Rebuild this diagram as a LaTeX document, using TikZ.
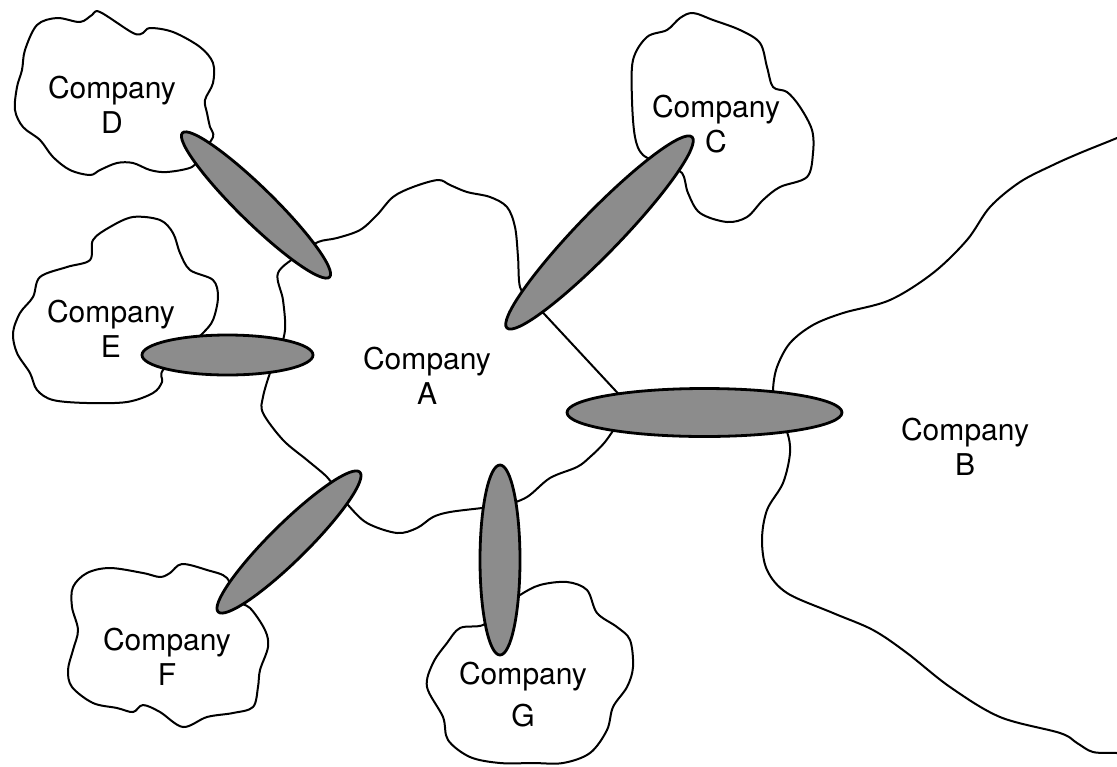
\documentclass[tikz,border=0pt]{standalone}
\usepackage{fontspec}
\setmainfont{TeX Gyre Heros}
\usetikzlibrary{shapes.geometric}
\begin{document}
\begin{tikzpicture}[x=0.5pt,y=-0.5pt,
  outline/.style={line width=1pt, line join=round},
  link/.style={ellipse, draw, line width=1.4pt, fill=black!45, inner sep=0pt},
  lbl/.style={font=\fontsize{15}{17.5}\selectfont, align=center, anchor=north, inner sep=0pt}]
\useasboundingbox[fill=white] (0,0) rectangle (1117,766);

% Company A: wavy outline with one straight stretch between the C and B links
\draw[outline] (535,304) -- (626,402) -- plot[smooth, tension=0.55] coordinates {
  (620,420) (605,442) (590,457) (577,467) (550,478) (527,497) (505,505)
  (482,508) (450,512) (433,517) (417,528) (397,533) (367,523) (348,505)
  (337,491) (327,477) (307,460) (283,440) (263,413) (263,397) (270,373)
  (278,355) (285,330) (283,300) (278,273) (300,254) (318,242) (337,238)
  (360,230) (377,215) (393,197) (413,187) (438,180) (450,185) (467,192)
  (490,197) (507,207) (515,227) (518,257) (520,287) (530,300)} -- cycle;

% Company B: open edge running off the right side
\draw[outline] plot[smooth, tension=0.55] coordinates {
  (1125,134) (1117,138) (1080,153) (1053,165) (1020,182) (990,207) (967,240)
  (933,273) (890,300) (843,313) (813,325) (790,343) (777,367) (773,390)
  (775,412) (787,432) (790,453) (783,483) (767,510) (762,540) (767,570)
  (787,593) (833,613) (873,630) (907,653) (950,687) (1000,717) (1060,733)
  (1077,743) (1093,752) (1117,753) (1125,754)};

% Company C
\draw[outline] plot[smooth cycle, tension=0.55] coordinates {
  (665,165) (643,155) (635,137) (632,100) (633,60) (647,37) (667,30) (680,18)
  (693,13) (713,20) (740,30) (760,43) (767,67) (773,87) (787,92) (800,107)
  (812,130) (813,153) (807,177) (780,187) (763,200) (747,217) (727,222)
  (700,213) (688,193) (682,173)};

% Company D
\draw[outline] plot[smooth cycle, tension=0.55] coordinates {
  (200,155) (192,167) (167,172) (150,170) (133,163) (117,163) (100,170)
  (90,175) (70,170) (53,157) (40,140) (23,127) (15,110) (17,87) (22,70)
  (25,50) (37,25) (57,18) (80,22) (92,15) (100,12) (133,33) (143,33)
  (150,28) (173,32) (200,47) (213,63) (213,83) (205,100) (207,113)
  (210,127) (213,137)};

% Company E
\draw[outline] plot[smooth cycle, tension=0.55] coordinates {
  (190,345) (203,333) (213,320) (218,297) (213,280) (190,270) (180,253)
  (173,233) (160,220) (133,217) (110,227) (93,240) (90,260) (67,267)
  (40,277) (33,297) (20,313) (13,333) (17,353) (30,373) (37,390) (53,400)
  (87,403) (127,402) (153,393) (162,382) (163,370)};

% Company F
\draw[outline] plot[smooth cycle, tension=0.55] coordinates {
  (235,600) (227,578) (207,570) (182,564) (170,573) (160,577) (143,573)
  (110,568) (87,573) (73,587) (72,607) (78,630) (73,650) (68,670) (72,687)
  (93,703) (117,708) (133,712) (143,705) (160,712) (183,727) (207,717)
  (233,713) (253,707) (258,687) (260,670) (268,647) (265,630) (250,608)};

% Company G
\draw[outline] plot[smooth cycle, tension=0.55] coordinates {
  (500,610) (520,595) (540,585) (567,582) (587,590) (597,613) (617,627)
  (630,640) (633,667) (627,687) (613,707) (607,730) (590,753) (563,763)
  (533,763) (500,763) (470,757) (448,740) (443,717) (427,687) (433,663)
  (447,643) (460,628) (483,625)};

% shaded links between the companies
\node[link, minimum width=103pt, minimum height=17.5pt, rotate=-44.4] (linkDA) at (256,205) {};
\node[link, minimum width=85.5pt, minimum height=20pt] (linkEA) at (227.5,355) {};
\node[link, minimum width=133pt, minimum height=21pt, rotate=45.9] (linkCA) at (599.5,232.5) {};
\node[link, minimum width=137.5pt, minimum height=24pt] (linkBA) at (704.5,412.5) {};
\node[link, minimum width=99.5pt, minimum height=18.5pt, rotate=44.6] (linkFA) at (289,542) {};
\node[link, minimum width=95pt, minimum height=20pt, rotate=90] (linkGA) at (500,560) {};

% labels
\node[lbl] (labelA) at (427,347) {Company\\A};
\node[lbl] (labelB) at (965,418) {Company\\B};
\node[lbl] (labelC) at (716,95) {Company\\C};
\node[lbl] (labelD) at (112,76) {Company\\D};
\node[lbl] (labelE) at (111,300) {Company\\E};
\node[lbl] (labelF) at (167,628) {Company\\F};
\node[lbl] (labelG) at (523,662) {Company\\[3.5pt]G};
\end{tikzpicture}
\end{document}
